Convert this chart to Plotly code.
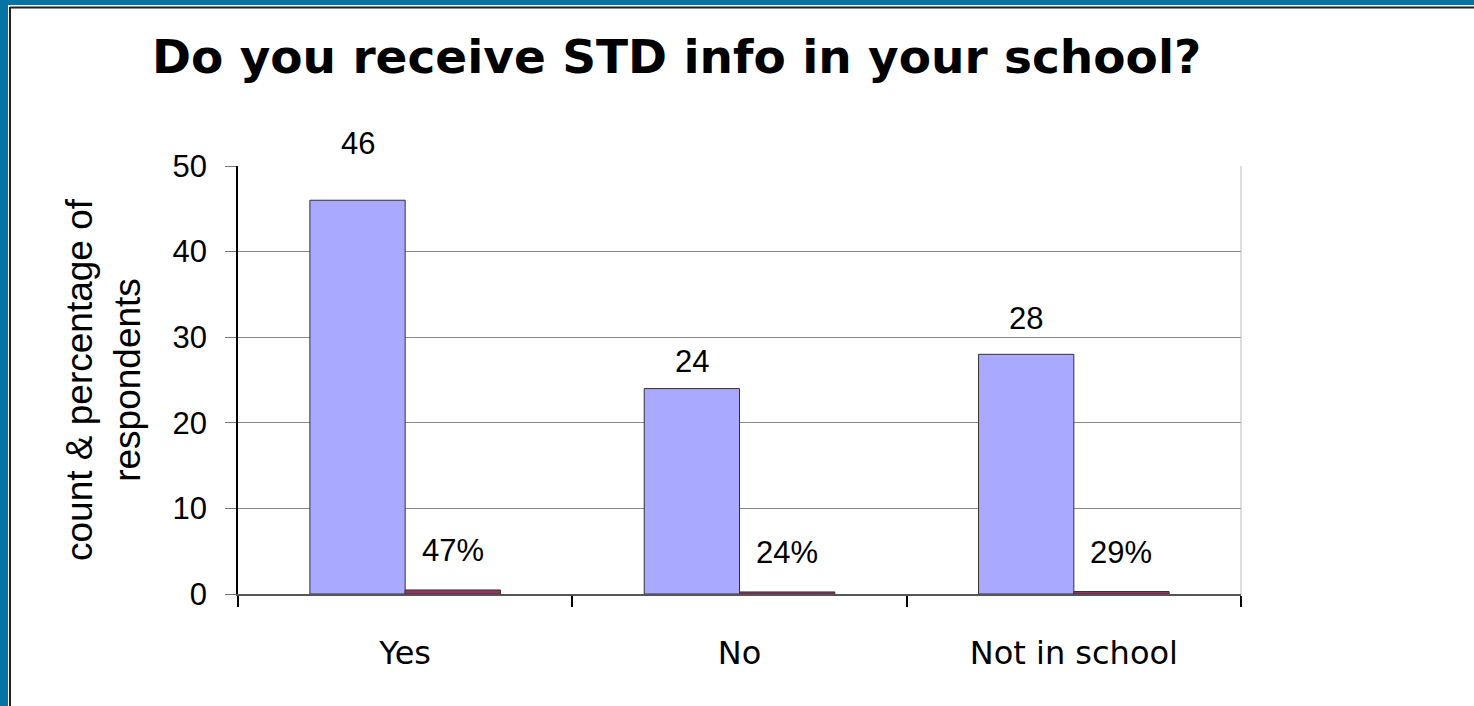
import plotly.graph_objects as go

categories = ["Yes", "No", "Not in school"]
counts = [46, 24, 28]
shares = [0.47, 0.24, 0.29]
share_labels = ["47%", "24%", "29%"]

W, H = 1474, 706
L, R, T, B = 238, 1241, 166, 594   # plot area in px

def px2x(px):
    return (px - L) / (R - L)

def px2y(py):
    return (B - py) / (B - T)

fig = go.Figure()
fig.add_trace(go.Bar(x=categories, y=counts, marker=dict(color="#A9A9FF", line=dict(color="#333333", width=1)),
                     hoverinfo="none"))
fig.add_trace(go.Bar(x=categories, y=shares, marker=dict(color="#993366", line=dict(color="#333333", width=1)),
                     hoverinfo="none"))

# data labels (excel style, floated above the bars)
label_lift = [57, 27, 36]
lab_font = dict(family="Liberation Sans, Arial", size=31, color="black")
annotations = []
for i, c in enumerate(categories):
    annotations.append(dict(x=i - 0.1425, y=counts[i], xref="x", yref="y", text=str(counts[i]),
                            showarrow=False, yanchor="middle", yshift=label_lift[i], font=lab_font))
    annotations.append(dict(x=i + 0.1425, y=shares[i], xref="x", yref="y", text=share_labels[i],
                            showarrow=False, yanchor="middle", yshift=39, font=lab_font))

annotations.append(dict(x=px2x(676), y=px2y(56), xref="paper", yref="paper",
                        text="<b>Do you receive STD info in your school?</b>", showarrow=False,
                        xanchor="center", yanchor="middle",
                        font=dict(family="DejaVu Sans", size=47, color="black")))

annotations.append(dict(x=px2x(103), y=0.5, xref="paper", yref="paper", textangle=-90,
                        text="count & percentage of<br>respondents", showarrow=False,
                        xanchor="center", yanchor="middle",
                        font=dict(family="Liberation Sans, Arial", size=37, color="black")))

shapes = [
    # blue slide frame
    dict(type="rect", xref="paper", yref="paper", x0=px2x(-5), x1=px2x(8), y0=px2y(H + 5), y1=px2y(-5),
         fillcolor="#0573A6", line=dict(width=0), layer="below"),
    dict(type="rect", xref="paper", yref="paper", x0=px2x(-5), x1=px2x(W + 5), y0=px2y(5), y1=px2y(-5),
         fillcolor="#0573A6", line=dict(width=0), layer="below"),
    # black chart border
    dict(type="line", xref="paper", yref="paper", x0=px2x(10), x1=px2x(10), y0=px2y(H + 5), y1=px2y(7),
         line=dict(color="#222222", width=2)),
    dict(type="line", xref="paper", yref="paper", x0=px2x(10), x1=px2x(W + 5), y0=px2y(7.5), y1=px2y(7.5),
         line=dict(color="#222222", width=2)),
    # right edge of plot area
    dict(type="line", xref="paper", yref="paper", x0=1, x1=1, y0=0, y1=1,
         line=dict(color="#BBBBBB", width=1)),
]

fig.update_layout(
    width=W, height=H,
    margin=dict(l=L, r=W - R, t=T, b=H - B, autoexpand=False),
    paper_bgcolor="white", plot_bgcolor="white",
    barmode="group", bargap=0.43, bargroupgap=0,
    showlegend=False,
    annotations=annotations,
    shapes=shapes,
    xaxis=dict(showgrid=False, showline=True, linecolor="#555555", linewidth=1.5,
               ticks="outside", tickson="boundaries", ticklen=11, tickcolor="black", tickwidth=1.5,
               ticklabelstandoff=30,
               tickfont=dict(family="DejaVu Sans", size=32, color="black"), zeroline=False),
    yaxis=dict(range=[0, 50], dtick=10, showgrid=True, gridcolor="#888888", gridwidth=1,
               showline=True, linecolor="black", linewidth=1.5, zeroline=False,
               ticks="outside", ticklen=11, tickcolor="#777777", ticklabelstandoff=12,
               tickfont=dict(family="Liberation Sans, Arial", size=31, color="black")),
)

fig.write_html("out.html", config={"displayModeBar": False},
               post_script="document.body.style.margin='0';")
